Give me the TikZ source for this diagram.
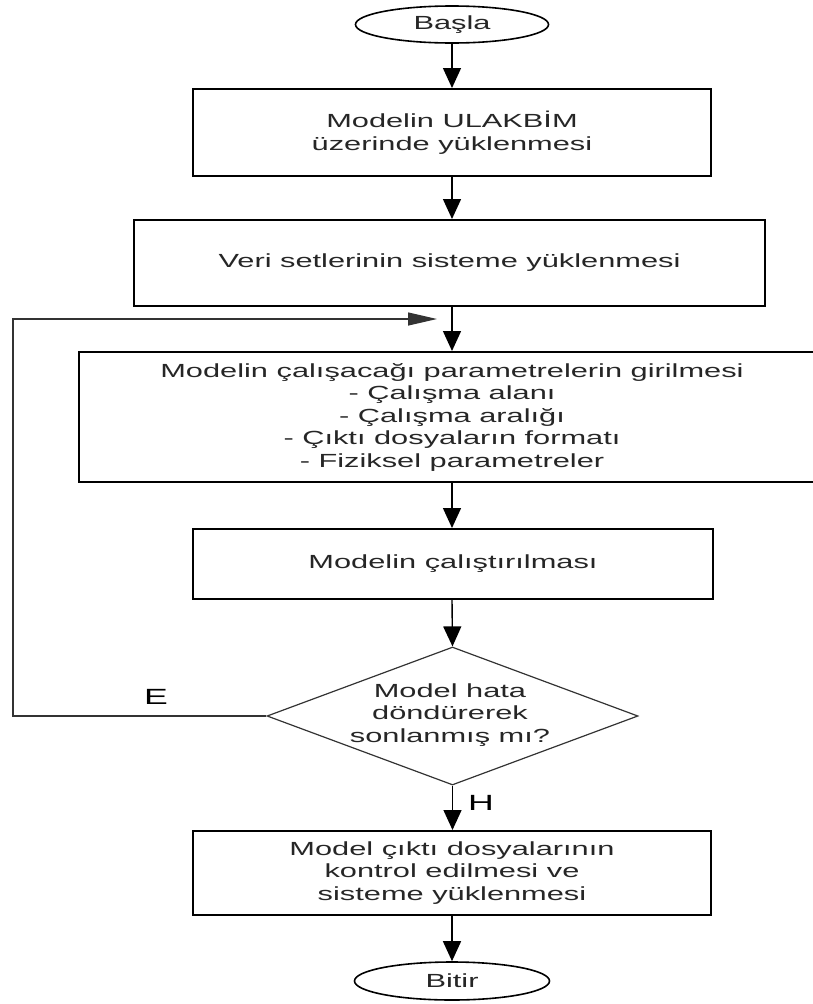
\documentclass[tikz,border=0pt]{standalone}
\usepackage{fontspec}
\setmainfont{Liberation Sans}[FakeStretch=1.62]
\usetikzlibrary{shapes.geometric,arrows.meta}

\begin{document}
\begin{tikzpicture}[x=1pt,y=-1pt,
  every node/.style={font=\fontsize{19}{22.5}\selectfont, text=black!85},
  proc/.style={draw=black, line width=2pt, rectangle, inner sep=0pt, align=center},
  term/.style={draw=black, line width=1.6pt, ellipse, inner sep=0pt},
  decision/.style={draw=black!80, line width=1.2pt, diamond, inner sep=0pt},
  txt/.style={align=center, inner sep=0pt},
  lbl/.style={font=\fontsize{22}{26}\selectfont, text=black, inner sep=0pt},
  flow/.style={line width=1.4pt, -{Triangle[length=20pt,width=18pt]}},
  back/.style={draw=black!80, line width=1.2pt},
  backtip/.style={back, -{Triangle[length=29pt,width=13pt]}}
]
% page area; the wide parameter box runs past the right edge
\clip (0,0) rectangle (813,1004);

% terminals
\node[term, minimum width=193pt, minimum height=37pt] (start) at (452,24.5) {Başla};
\node[term, minimum width=195pt, minimum height=38pt] (stop) at (452,981) {Bitir};

% process steps
\node[proc, minimum width=518pt, minimum height=87pt] (load) at (452,132.5)
  {Modelin ULAKBİM\\üzerinde yüklenmesi};
\node[proc, minimum width=631pt, minimum height=86pt] (data) at (449.5,263)
  {Veri setlerinin sisteme yüklenmesi};
\node[proc, minimum width=746pt, minimum height=130pt] (param) at (452,417)
  {Modelin çalışacağı parametrelerin girilmesi\\
   - Çalışma alanı\\
   - Çalışma aralığı\\
   - Çıktı dosyaların formatı\\
   - Fiziksel parametreler};
\node[proc, minimum width=520pt, minimum height=70pt] (run) at (453,564)
  {Modelin çalıştırılması};
\node[proc, minimum width=518pt, minimum height=84pt] (check) at (452,873)
  {Model çıktı dosyalarının\\kontrol edilmesi ve\\sisteme yüklenmesi};

% decision
\node[decision, minimum width=371pt, minimum height=138pt] (dec) at (452.5,716) {};
\node[txt] (dectext) at (450,715) {Model hata\\döndürerek\\sonlanmış mı?};

% main flow
\draw[flow] (start.south) -- (start.south |- load.north);
\draw[flow] (load.south) -- (load.south |- data.north);
\draw[flow] (load.south |- data.south) -- (load.south |- param.north);
\draw[flow] (param.south) -- (param.south |- run.north);
\draw[flow] (param.south |- run.south) -- (dec.north);
\draw[flow] (dec.south) -- (dec.south |- check.north);
\draw[flow] (check.south) -- (check.south |- stop.north);

% "E" branch back to the parameter step
\coordinate (corner) at (13,716);
\coordinate (top) at (13,319);
\coordinate (tip) at (437,319);
\draw[backtip] (dec.west) -- (corner) -- (top) -- (tip);

% branch labels
\node[lbl] (e) at (156,697) {E};
\node[lbl] (h) at (481,803) {H};
\end{tikzpicture}
\end{document}
